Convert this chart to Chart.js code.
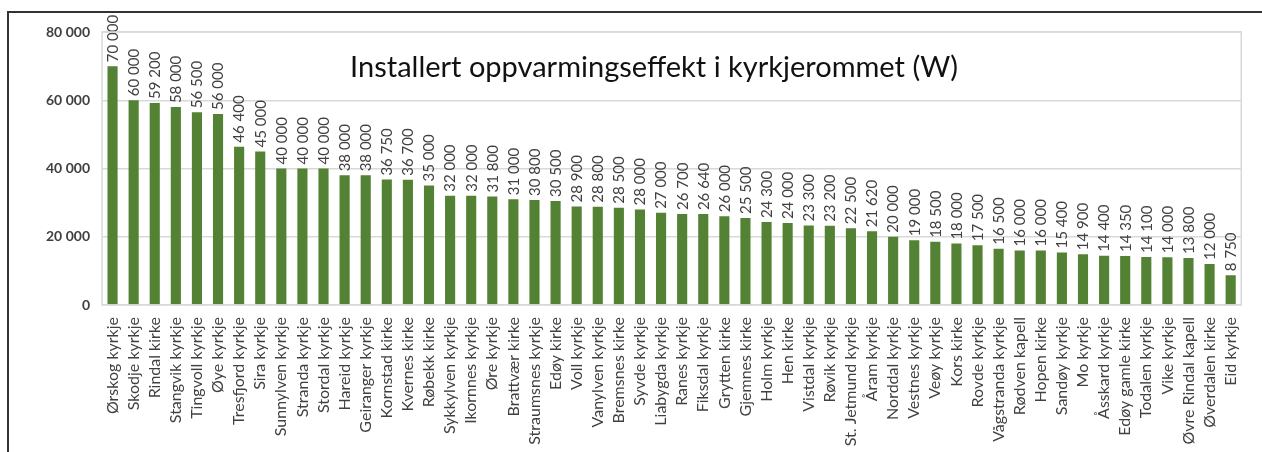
<!DOCTYPE html>
<html>
<head>
<meta charset="utf-8">
<script src="https://cdn.jsdelivr.net/npm/chart.js@4/dist/chart.umd.min.js"></script>
<style>
html,body{margin:0;padding:0;background:#fff;}
#wrap{position:relative;width:1262px;height:452px;}
canvas{display:block;}
</style>
</head>
<body>
<div id="wrap"><canvas id="c" width="1262" height="452"></canvas></div>
<script>
const categories = ["Ørskog kyrkje","Skodje kyrkje","Rindal kirke","Stangvik kyrkje","Tingvoll kyrkje","Øye kyrkje","Tresfjord kyrkje","Sira kyrkje","Sunnylven kyrkje","Stranda kyrkje","Stordal kyrkje","Hareid kyrkje","Geiranger kyrkje","Kornstad kirke","Kvernes kirke","Røbekk kirke","Sykkylven kyrkje","Ikornnes kyrkje","Øre kyrkje","Brattvær kirke","Straumsnes kyrkje","Edøy kirke","Voll kyrkje","Vanylven kyrkje","Bremsnes kirke","Syvde kyrkje","Liabygda kyrkje","Ranes kyrkje","Fiksdal kyrkje","Grytten kirke","Gjemnes kirke","Holm kyrkje","Hen kirke","Vistdal kyrkje","Røvik kyrkje","St. Jetmund kyrkje","Åram kyrkje","Norddal kyrkje","Vestnes kyrkje","Veøy kyrkje","Kors kirke","Rovde kyrkje","Vågstranda kyrkje","Rødven kapell","Hopen kirke","Sandøy kyrkje","Mo kyrkje","Åsskard kyrkje","Edøy gamle kirke","Todalen kyrkje","Vike kyrkje","Øvre Rindal kapell","Øverdalen kirke","Eid kyrkje"];
const effectW = [70000,60000,59200,58000,56500,56000,46400,45000,40000,40000,40000,38000,38000,36750,36700,35000,32000,32000,31800,31000,30800,30500,28900,28800,28500,28000,27000,26700,26640,26000,25500,24300,24000,23300,23200,22500,21620,20000,19000,18500,18000,17500,16500,16000,16000,15400,14900,14400,14350,14100,14000,13800,12000,8750];
const yTickValues = [0,20000,40000,60000,80000];
const chartTitle = "Installert oppvarmingseffekt i kyrkjerommet (W)";

function fmt(v){ return String(v).replace(/\B(?=(\d{3})+(?!\d))/g, ' '); }

const FONT = "Lato";

const framePlugin = {
  id:'frame',
  beforeDraw(chart){
    const ctx = chart.ctx;
    ctx.save();
    ctx.fillStyle = '#fff';
    ctx.fillRect(0,0,chart.width,chart.height);
    ctx.strokeStyle = '#333';
    ctx.lineWidth = 2;
    ctx.beginPath();
    ctx.moveTo(8, chart.height);
    ctx.lineTo(8, 12);
    ctx.lineTo(chart.width, 12);
    ctx.stroke();
    ctx.restore();
  },
  afterDraw(chart){
    const ctx = chart.ctx, a = chart.chartArea;
    ctx.save();
    ctx.strokeStyle = '#d9d9d9';
    ctx.lineWidth = 1.5;
    ctx.strokeRect(a.left, a.top, a.right - a.left, a.bottom - a.top);
    ctx.fillStyle = '#111';
    ctx.font = '29px ' + FONT;
    ctx.textAlign = 'center';
    ctx.textBaseline = 'alphabetic';
    ctx.fillText(chartTitle, 654, 77);
    ctx.restore();
  }
};

const labelPlugin = {
  id:'barLabels',
  afterDatasetsDraw(chart){
    const ctx = chart.ctx;
    const meta = chart.getDatasetMeta(0);
    const ds = chart.data.datasets[0];
    ctx.save();
    ctx.fillStyle = '#404040';
    ctx.font = '15px ' + FONT;
    ctx.textAlign = 'left';
    ctx.textBaseline = 'middle';
    meta.data.forEach((bar, i) => {
      ctx.save();
      ctx.translate(bar.x + 0.5, bar.y - 4);
      ctx.rotate(-Math.PI/2);
      ctx.fillText(fmt(ds.data[i]), 0, 0);
      ctx.restore();
    });
    ctx.restore();
  }
};

new Chart(document.getElementById('c'), {
  type:'bar',
  data:{
    labels: categories,
    datasets:[{
      data: effectW,
      backgroundColor:'#548235',
      borderWidth:0,
      barPercentage:0.48,
      categoryPercentage:1.0
    }]
  },
  options:{
    responsive:false,
    animation:false,
    devicePixelRatio:1,
    layout:{padding:{left:0,top:32,right:13,bottom:0}},
    plugins:{legend:{display:false},tooltip:{enabled:false},title:{display:false}},
    scales:{
      x:{
        grid:{display:false, drawTicks:false},
        border:{display:false},
        ticks:{
          autoSkip:false, minRotation:90, maxRotation:90, padding:12,
          color:'#404040', font:{family:FONT,size:16}
        },
        afterFit(s){ s.height = 147; }
      },
      y:{
        min:0, max:80000,
        afterBuildTicks(s){ s.ticks = yTickValues.map(v => ({value:v})); },
        grid:{color:'#d9d9d9', lineWidth:1.5, drawTicks:false},
        border:{display:false},
        ticks:{
          padding:12, color:'#404040',
          font:{family:FONT,size:14,weight:'bold'},
          callback:(v)=>fmt(v)
        },
        afterFit(s){ s.width = 102; }
      }
    }
  },
  plugins:[framePlugin, labelPlugin]
});
</script>
</body>
</html>
